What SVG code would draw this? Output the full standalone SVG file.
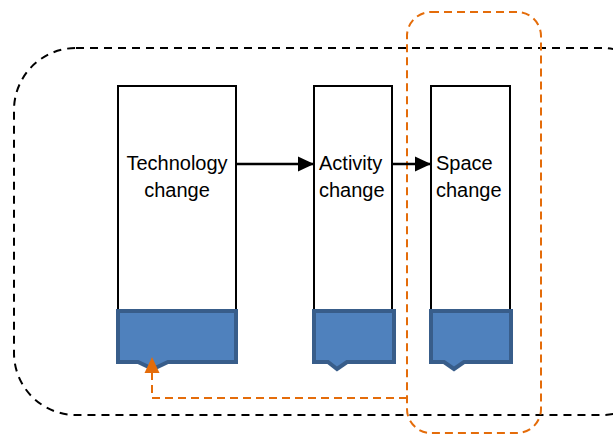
<svg xmlns="http://www.w3.org/2000/svg" width="613" height="437" viewBox="0 0 613 437">
<style>
.box{fill:#fff;stroke:#000;stroke-width:2}
.foot{fill:#4f81bd;stroke:#385d8a;stroke-width:4;stroke-linejoin:miter}
.lbl{font-family:"Liberation Sans",Arial,sans-serif;font-size:20px;fill:#000}
.blk{fill:none;stroke:#000;stroke-width:2;stroke-dasharray:8,6}
.org{fill:none;stroke:#e46c0a;stroke-width:2;stroke-dasharray:8,5}
</style>
<defs>
<marker id="ah" markerWidth="16" markerHeight="16" refX="16" refY="8" orient="auto" markerUnits="userSpaceOnUse">
<path d="M0,0.5 L16,8 L0,15.5 z" fill="#000"/>
</marker>
<marker id="oh" markerWidth="16" markerHeight="16" refX="15" refY="8" orient="auto" markerUnits="userSpaceOnUse">
<path d="M0,1 L15,8 L0,15 z" fill="#e46c0a"/>
</marker>
</defs>
<g id="scope">
<rect class="blk" x="14" y="48" width="650" height="367" rx="62" ry="62"/>
</g>
<g id="tech">
<rect class="box" x="118" y="86" width="118" height="224"/>
<path class="foot" d="M118,311 H236 V362 H168 L153,369 L138,362 H118 Z"/>
<text class="lbl" x="177" y="170" text-anchor="middle">Technology</text>
<text class="lbl" x="177" y="197" text-anchor="middle">change</text>
</g>
<g id="activity">
<rect class="box" x="314" y="86" width="78" height="224"/>
<path class="foot" d="M314,311 H394 V362 H347 L337,369 L328,362 H314 Z"/>
<text class="lbl" x="319" y="170">Activity</text>
<text class="lbl" x="319" y="197">change</text>
</g>
<g id="space">
<rect class="box" x="431" y="86" width="79" height="224"/>
<path class="foot" d="M431,311 H511 V362 H464 L454,369 L444,362 H431 Z"/>
<text class="lbl" x="436" y="170">Space</text>
<text class="lbl" x="436" y="197">change</text>
</g>
<g id="focus">
<rect class="org" x="407" y="12" width="134" height="421" rx="24" ry="24"/>
</g>
<g id="connectors">
<line x1="236" y1="164" x2="314" y2="164" stroke="#000" stroke-width="2.5" marker-end="url(#ah)"/>
<line x1="392" y1="164" x2="431" y2="164" stroke="#000" stroke-width="2.5" marker-end="url(#ah)"/>
<polyline class="org" points="407,398 152,398 152,372"/>
<path d="M152,357 L159.5,373 L144.5,373 Z" fill="#e46c0a"/>
</g>
</svg>
